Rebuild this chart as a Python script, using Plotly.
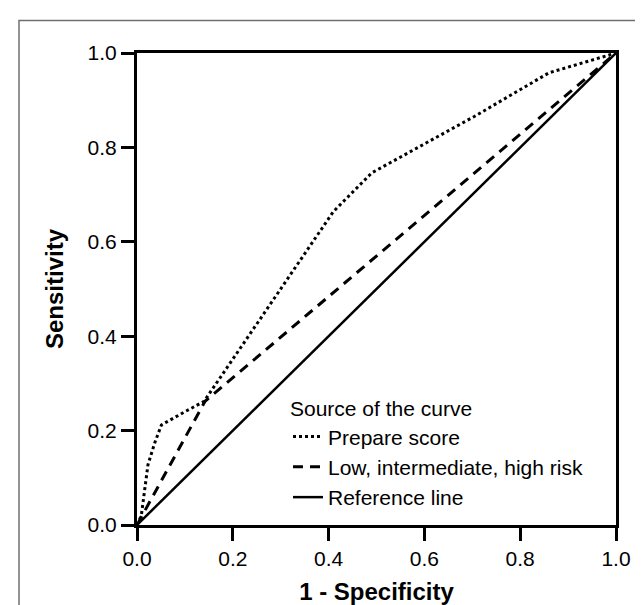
import plotly.graph_objects as go

# Data
prepare_x = [0.0, 0.009, 0.018, 0.023, 0.037, 0.051, 0.10, 0.14, 0.41, 0.49, 0.705, 0.86, 1.0]
prepare_y = [0.0, 0.02, 0.09, 0.128, 0.174, 0.212, 0.24, 0.262, 0.664, 0.746, 0.866, 0.958, 1.0]

risk_x = [0.0, 0.142, 1.0]
risk_y = [0.0, 0.262, 1.0]

ref_x = [0.0, 1.0]
ref_y = [0.0, 1.0]

tick_vals = [0.0, 0.2, 0.4, 0.6, 0.8, 1.0]
tick_text = ["0.0", "0.2", "0.4", "0.6", "0.8", "1.0"]

FONT = "Liberation Sans, Arial, sans-serif"

fig = go.Figure()
fig.add_trace(go.Scatter(x=prepare_x, y=prepare_y, mode="lines", name="Prepare score",
                         line=dict(color="black", width=3, dash="3px,3px")))
fig.add_trace(go.Scatter(x=risk_x, y=risk_y, mode="lines", name="Low, intermediate, high risk",
                         line=dict(color="black", width=3, dash="10px,7px")))
fig.add_trace(go.Scatter(x=ref_x, y=ref_y, mode="lines", name="Reference line",
                         line=dict(color="black", width=2.5)))

W, H = 643, 605
L, R, T, B = 129, 35, 45, 82
pw, ph = W - L - R, H - T - B

axis_common = dict(
    range=[0, 1], tickvals=tick_vals, ticktext=tick_text,
    showline=True, linecolor="black", linewidth=3, mirror=True,
    ticks="outside", ticklen=13, tickwidth=3, tickcolor="black",
    showgrid=False, zeroline=False,
    tickfont=dict(family=FONT, size=21, color="black"),
)

fig.update_layout(
    width=W, height=H,
    margin=dict(l=L, r=R, t=T, b=B),
    paper_bgcolor="white", plot_bgcolor="white",
    xaxis=dict(**axis_common,
               title=dict(text="<b>1 - Specificity</b>", font=dict(family=FONT, size=24, color="black"),
                          standoff=14)),
    yaxis=dict(**axis_common,
               title=dict(text="<b>Sensitivity</b>", font=dict(family=FONT, size=24, color="black"),
                          standoff=18)),
    legend=dict(
        title=dict(text="Source of the curve", font=dict(family=FONT, size=21, color="black")),
        font=dict(family=FONT, size=21, color="black"),
        x=(280 - L) / pw, xanchor="left",
        y=(523 - 516) / ph, yanchor="bottom",
        bgcolor="rgba(0,0,0,0)", borderwidth=0,
        itemwidth=30,
    ),
    showlegend=True,
)

# outer gray frame (decoration)
fig.add_shape(type="rect", xref="paper", yref="paper",
              x0=(11 - L) / pw, x1=(W + 5 - L) / pw,
              y0=-(H + 5 - T - ph) / ph, y1=(H - 12 - B) / ph,
              line=dict(color="#707070", width=1.5), fillcolor="rgba(0,0,0,0)", layer="below")

fig.write_html("out.html")
